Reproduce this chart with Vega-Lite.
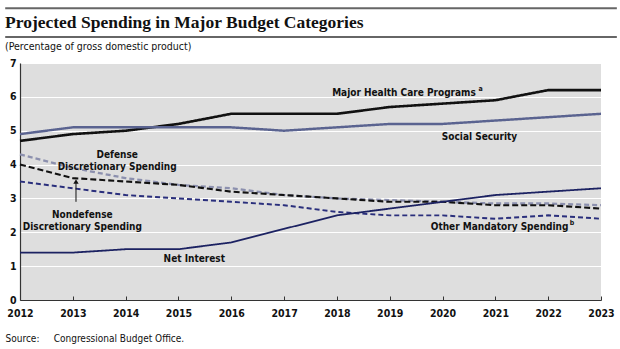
{
  "$schema": "https://vega.github.io/schema/vega-lite/v6.json",
  "width": 581,
  "height": 237,
  "autosize": {"type": "none"},
  "padding": {"left": 20, "top": 63, "right": 19, "bottom": 49},
  "background": "white",
  "title": {
    "text": "Projected Spending in Major Budget Categories",
    "subtitle": "(Percentage of gross domestic product)",
    "anchor": "start",
    "frame": "group",
    "dx": -15,
    "offset": -45,
    "font": "Liberation Serif",
    "fontSize": 17.5,
    "fontWeight": "bold",
    "color": "#111",
    "subtitleFont": "DejaVu Sans Condensed, sans-serif",
    "subtitleFontSize": 10.5,
    "subtitleColor": "#111",
    "subtitlePadding": 10
  },
  "config": {
    "view": {"fill": "#dedede", "stroke": null},
    "font": "DejaVu Sans Condensed, sans-serif",
    "axisY": {"tickCount": 8, "tickMinStep": 1}
  },
  "datasets": {
    "series": [
      {"year": 2012, "series": "Major Health Care Programs", "value": 4.7},
      {"year": 2013, "series": "Major Health Care Programs", "value": 4.9},
      {"year": 2014, "series": "Major Health Care Programs", "value": 5.0},
      {"year": 2015, "series": "Major Health Care Programs", "value": 5.2},
      {"year": 2016, "series": "Major Health Care Programs", "value": 5.5},
      {"year": 2017, "series": "Major Health Care Programs", "value": 5.5},
      {"year": 2018, "series": "Major Health Care Programs", "value": 5.5},
      {"year": 2019, "series": "Major Health Care Programs", "value": 5.7},
      {"year": 2020, "series": "Major Health Care Programs", "value": 5.8},
      {"year": 2021, "series": "Major Health Care Programs", "value": 5.9},
      {"year": 2022, "series": "Major Health Care Programs", "value": 6.2},
      {"year": 2023, "series": "Major Health Care Programs", "value": 6.2},
      {"year": 2012, "series": "Social Security", "value": 4.9},
      {"year": 2013, "series": "Social Security", "value": 5.1},
      {"year": 2014, "series": "Social Security", "value": 5.1},
      {"year": 2015, "series": "Social Security", "value": 5.1},
      {"year": 2016, "series": "Social Security", "value": 5.1},
      {"year": 2017, "series": "Social Security", "value": 5.0},
      {"year": 2018, "series": "Social Security", "value": 5.1},
      {"year": 2019, "series": "Social Security", "value": 5.2},
      {"year": 2020, "series": "Social Security", "value": 5.2},
      {"year": 2021, "series": "Social Security", "value": 5.3},
      {"year": 2022, "series": "Social Security", "value": 5.4},
      {"year": 2023, "series": "Social Security", "value": 5.5},
      {"year": 2012, "series": "Defense Discretionary Spending", "value": 4.3},
      {"year": 2013, "series": "Defense Discretionary Spending", "value": 3.9},
      {"year": 2014, "series": "Defense Discretionary Spending", "value": 3.6},
      {"year": 2015, "series": "Defense Discretionary Spending", "value": 3.4},
      {"year": 2016, "series": "Defense Discretionary Spending", "value": 3.3},
      {"year": 2017, "series": "Defense Discretionary Spending", "value": 3.1},
      {"year": 2018, "series": "Defense Discretionary Spending", "value": 3.0},
      {"year": 2019, "series": "Defense Discretionary Spending", "value": 2.95},
      {"year": 2020, "series": "Defense Discretionary Spending", "value": 2.9},
      {"year": 2021, "series": "Defense Discretionary Spending", "value": 2.85},
      {"year": 2022, "series": "Defense Discretionary Spending", "value": 2.85},
      {"year": 2023, "series": "Defense Discretionary Spending", "value": 2.8},
      {"year": 2012, "series": "Nondefense Discretionary Spending", "value": 4.0},
      {"year": 2013, "series": "Nondefense Discretionary Spending", "value": 3.6},
      {"year": 2014, "series": "Nondefense Discretionary Spending", "value": 3.5},
      {"year": 2015, "series": "Nondefense Discretionary Spending", "value": 3.4},
      {"year": 2016, "series": "Nondefense Discretionary Spending", "value": 3.2},
      {"year": 2017, "series": "Nondefense Discretionary Spending", "value": 3.1},
      {"year": 2018, "series": "Nondefense Discretionary Spending", "value": 3.0},
      {"year": 2019, "series": "Nondefense Discretionary Spending", "value": 2.9},
      {"year": 2020, "series": "Nondefense Discretionary Spending", "value": 2.9},
      {"year": 2021, "series": "Nondefense Discretionary Spending", "value": 2.8},
      {"year": 2022, "series": "Nondefense Discretionary Spending", "value": 2.8},
      {"year": 2023, "series": "Nondefense Discretionary Spending", "value": 2.7},
      {"year": 2012, "series": "Other Mandatory Spending", "value": 3.5},
      {"year": 2013, "series": "Other Mandatory Spending", "value": 3.3},
      {"year": 2014, "series": "Other Mandatory Spending", "value": 3.1},
      {"year": 2015, "series": "Other Mandatory Spending", "value": 3.0},
      {"year": 2016, "series": "Other Mandatory Spending", "value": 2.9},
      {"year": 2017, "series": "Other Mandatory Spending", "value": 2.8},
      {"year": 2018, "series": "Other Mandatory Spending", "value": 2.6},
      {"year": 2019, "series": "Other Mandatory Spending", "value": 2.5},
      {"year": 2020, "series": "Other Mandatory Spending", "value": 2.5},
      {"year": 2021, "series": "Other Mandatory Spending", "value": 2.4},
      {"year": 2022, "series": "Other Mandatory Spending", "value": 2.5},
      {"year": 2023, "series": "Other Mandatory Spending", "value": 2.4},
      {"year": 2012, "series": "Net Interest", "value": 1.4},
      {"year": 2013, "series": "Net Interest", "value": 1.4},
      {"year": 2014, "series": "Net Interest", "value": 1.5},
      {"year": 2015, "series": "Net Interest", "value": 1.5},
      {"year": 2016, "series": "Net Interest", "value": 1.7},
      {"year": 2017, "series": "Net Interest", "value": 2.1},
      {"year": 2018, "series": "Net Interest", "value": 2.5},
      {"year": 2019, "series": "Net Interest", "value": 2.7},
      {"year": 2020, "series": "Net Interest", "value": 2.9},
      {"year": 2021, "series": "Net Interest", "value": 3.1},
      {"year": 2022, "series": "Net Interest", "value": 3.2},
      {"year": 2023, "series": "Net Interest", "value": 3.3}
    ],
    "labels": [
      {"year": 2019.27, "value": 6.1, "label": "Major Health Care Programs"},
      {"year": 2020.7, "value": 4.81, "label": "Social Security"},
      {"year": 2013.84, "value": 4.28, "label": "Defense\nDiscretionary Spending"},
      {"year": 2013.18, "value": 2.51, "label": "Nondefense\nDiscretionary Spending"},
      {"year": 2015.3, "value": 1.2, "label": "Net Interest"},
      {"year": 2021.08, "value": 2.16, "label": "Other Mandatory Spending"}
    ],
    "sups": [
      {"year": 2020.72, "value": 6.22, "label": "a"},
      {"year": 2022.45, "value": 2.28, "label": "b"}
    ]
  },
  "layer": [
    {
      "data": {"name": "series"},
      "mark": {"type": "line", "clip": false},
      "encoding": {
        "x": {
          "field": "year",
          "type": "quantitative",
          "scale": {"domain": [2012, 2023], "nice": false, "zero": false},
          "axis": {
            "values": [2012, 2013, 2014, 2015, 2016, 2017, 2018, 2019, 2020, 2021, 2022, 2023],
            "format": "d",
            "grid": false,
            "labelFontWeight": "bold",
            "labelFontSize": 10.5,
            "labelColor": "#111",
            "labelPadding": 12,
            "labelFlush": false,
            "labelOverlap": false,
            "domainColor": "#333",
            "domainWidth": 1.2,
            "tickColor": "#333",
            "tickSize": -4,
            "title": "Source:\u00a0\u00a0\u00a0\u00a0\u00a0Congressional Budget Office.",
            "titleAnchor": "start",
            "titleX": -15,
            "titleY": 38,
            "titleBaseline": "middle",
            "titleFontWeight": "normal",
            "titleFontSize": 10,
            "titleColor": "#111"
          }
        },
        "y": {
          "field": "value",
          "type": "quantitative",
          "scale": {"domain": [0, 7], "nice": false},
          "axis": {
            "values": [0, 1, 2, 3, 4, 5, 6, 7],
            "tickCount": 8,
            "tickMinStep": 1,
            "labelOverlap": false,
            "title": null,
            "grid": true,
            "gridColor": "white",
            "gridWidth": 1.2,
            "labelFontWeight": "bold",
            "labelFontSize": 10.5,
            "labelColor": "#111",
            "labelPadding": 4,
            "ticks": false,
            "domainColor": "#333",
            "domainWidth": 1.2
          }
        },
        "color": {
          "field": "series",
          "type": "nominal",
          "legend": null,
          "scale": {
            "domain": ["Major Health Care Programs", "Social Security", "Defense Discretionary Spending", "Nondefense Discretionary Spending", "Other Mandatory Spending", "Net Interest"],
            "range": ["#111111", "#5a6390", "#8c90ae", "#111111", "#2a2f7c", "#1c2262"]
          }
        },
        "strokeDash": {
          "field": "series",
          "type": "nominal",
          "legend": null,
          "scale": {
            "domain": ["Major Health Care Programs", "Social Security", "Defense Discretionary Spending", "Nondefense Discretionary Spending", "Other Mandatory Spending", "Net Interest"],
            "range": [[1, 0], [1, 0], [5, 3], [6, 3], [5, 3], [1, 0]]
          }
        },
        "strokeWidth": {
          "field": "series",
          "type": "nominal",
          "legend": null,
          "scale": {
            "domain": ["Major Health Care Programs", "Social Security", "Defense Discretionary Spending", "Nondefense Discretionary Spending", "Other Mandatory Spending", "Net Interest"],
            "range": [2.6, 1.8, 2, 2.3, 2, 2.3]
          }
        }
      }
    },
    {
      "data": {"name": "labels"},
      "mark": {"type": "text", "fontWeight": "bold", "fontSize": 10, "color": "#111", "lineBreak": "\n", "lineHeight": 12, "align": "center", "baseline": "middle"},
      "encoding": {
        "x": {"field": "year", "type": "quantitative"},
        "y": {"field": "value", "type": "quantitative"},
        "text": {"field": "label"}
      }
    },
    {
      "data": {"name": "sups"},
      "mark": {"type": "text", "fontWeight": "bold", "fontSize": 7, "color": "#111", "align": "center", "baseline": "middle"},
      "encoding": {
        "x": {"field": "year", "type": "quantitative"},
        "y": {"field": "value", "type": "quantitative"},
        "text": {"field": "label"}
      }
    },
    {
      "data": {"values": [{}]},
      "mark": {"type": "rule", "color": "#111", "strokeWidth": 1},
      "encoding": {
        "x": {"datum": 2013.06},
        "y": {"datum": 2.9},
        "y2": {"datum": 3.45}
      }
    },
    {
      "data": {"values": [{}]},
      "mark": {"type": "point", "shape": "triangle-up", "filled": true, "color": "#111", "size": 28, "opacity": 1},
      "encoding": {
        "x": {"datum": 2013.06},
        "y": {"datum": 3.5}
      }
    },
    {
      "data": {"values": [{}]},
      "mark": {"type": "rule", "color": "#666", "strokeWidth": 2, "clip": false},
      "encoding": {
        "x": {"datum": 2011.72},
        "x2": {"datum": 2023.3},
        "y": {"datum": 7.77}
      }
    },
    {
      "data": {"values": [{}]},
      "mark": {"type": "rule", "color": "#666", "strokeWidth": 2, "clip": false},
      "encoding": {
        "x": {"datum": 2011.72},
        "x2": {"datum": 2023.3},
        "y": {"datum": 8.62}
      }
    }
  ]
}
